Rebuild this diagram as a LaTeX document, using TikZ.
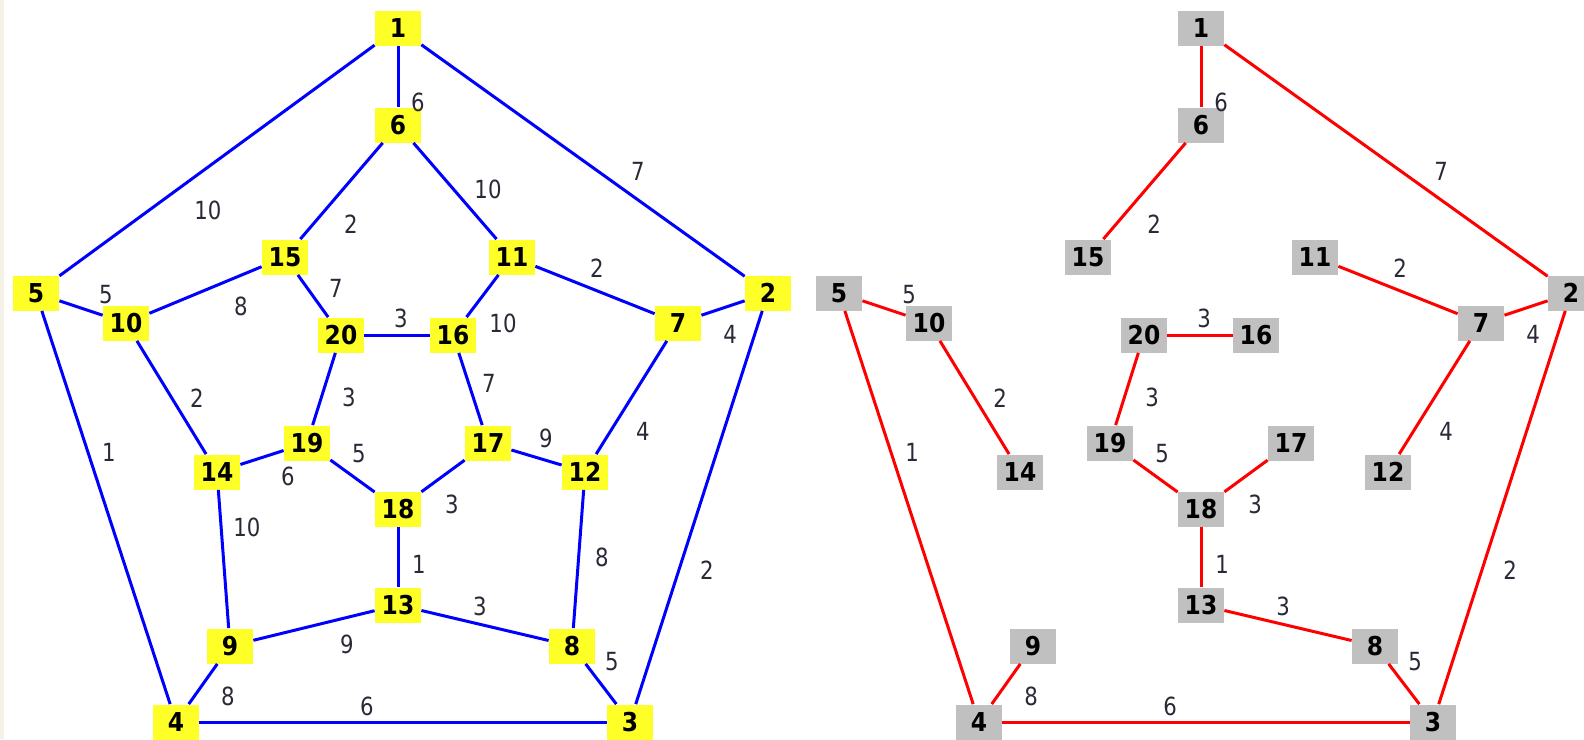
\documentclass[tikz,border=0pt]{standalone}
\usepackage{fontspec}
\setmainfont{DejaVu Sans}
\newfontfamily\nodeFont{DejaVu Sans}[FakeStretch=0.9]
\newfontfamily\weightFont{DejaVu Sans}[FakeStretch=0.85]
\usetikzlibrary{positioning}

\definecolor{nodeYellow}{RGB}{255,255,40}
\definecolor{nodeGray}{RGB}{192,192,192}
\definecolor{edgeBlue}{RGB}{0,0,255}
\definecolor{edgeRed}{RGB}{255,0,0}
\definecolor{weightInk}{RGB}{45,40,55}
\definecolor{creamStrip}{RGB}{244,242,230}

\begin{document}
\begin{tikzpicture}[
    x=0.5pt, y=-0.5pt,
    graphNode/.style={
        rectangle, fill=nodeYellow, minimum width=23pt, minimum height=17.5pt,
        inner sep=0pt, font=\nodeFont\fontsize{13}{13}\selectfont\bfseries
    },
    treeNode/.style={
        graphNode, fill=nodeGray
    },
    graphEdge/.style={
        line width=1.5pt, draw=edgeBlue
    },
    treeEdge/.style={
        line width=1.5pt, draw=edgeRed
    },
    weightLabel/.style={
        font=\weightFont\fontsize{12.5}{12.5}\selectfont, text=weightInk, inner sep=0pt
    }
]

\useasboundingbox (0,0) rectangle (1584,739);
\fill[creamStrip] (0,0) rectangle (4,739);

% Nodes (left: full graph, right: spanning tree)
\foreach \n/\x/\y in {1/398/28, 6/398/125, 15/285/257, 11/512/257,
    5/36/293, 2/768/293, 10/126/323, 7/678/323, 20/341/335, 16/453/335,
    19/307/443, 17/488/443, 14/217/472, 12/585/472, 18/398/509,
    13/398/605, 9/230/646, 8/572/646, 4/176/722, 3/630/722} {
    \node[graphNode] (g\n) at (\x,\y) {\n};
    \node[treeNode] (t\n) at (\x+803,\y) {\n};
}

% Edges with weights (last field: edge kept in the tree)
\foreach \a/\b/\w/\lx/\ly/\inTree in {
    1/6/6/418/102/1, 1/5/10/208/210/0, 1/2/7/638/171/1,
    6/15/2/351/224/1, 6/11/10/488/189/0, 15/10/8/241/306/0,
    15/20/7/336/288/0, 5/10/5/106/295/1, 20/16/3/401/318/1,
    11/16/10/503/323/0, 11/7/2/597/268/1, 2/7/4/730/334/1,
    10/14/2/197/398/1, 20/19/3/349/397/1, 16/17/7/489/383/0,
    5/4/1/109/452/1, 19/14/6/288/476/0, 19/18/5/359/454/1,
    17/12/9/546/438/0, 7/12/4/643/431/1, 17/18/3/452/504/1,
    14/9/10/247/527/0, 18/13/1/419/564/1, 12/8/8/602/557/0,
    2/3/2/707/570/1, 13/8/3/480/606/1, 13/9/9/347/644/0,
    8/3/5/612/662/1, 9/4/8/228/696/1, 4/3/6/367/706/1} {
    \draw[graphEdge] (g\a) -- (g\b)
        node[weightLabel] (gw\a-\b) at (\lx,\ly) {\w};
    \ifnum\inTree=1
        \draw[treeEdge] (t\a) -- (t\b)
            node[weightLabel] (tw\a-\b) at (\lx+803,\ly) {\w};
    \fi
}

\end{tikzpicture}
\end{document}
